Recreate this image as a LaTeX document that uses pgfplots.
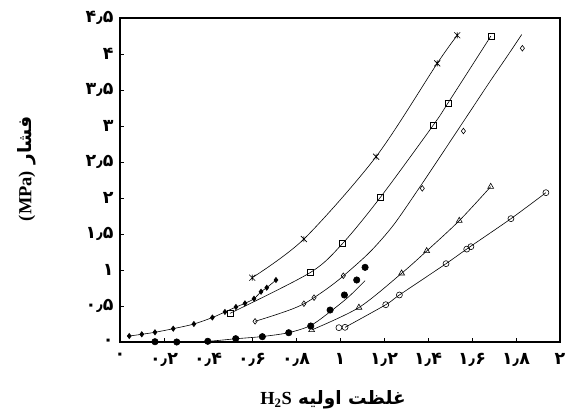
\documentclass[border=0pt]{standalone}
\usepackage{fontspec}
\setmainfont{Liberation Serif}
\newfontfamily\arabicfont[Script=Arabic]{DejaVu Sans}
\usepackage{pgfplots}
\pgfplotsset{compat=1.18}
\TeXXeTstate=1
\pgfdeclareplotmark{xstar}{%
  \pgfpathmoveto{\pgfqpoint{-\pgfplotmarksize}{-\pgfplotmarksize}}%
  \pgfpathlineto{\pgfqpoint{\pgfplotmarksize}{\pgfplotmarksize}}%
  \pgfpathmoveto{\pgfqpoint{-\pgfplotmarksize}{\pgfplotmarksize}}%
  \pgfpathlineto{\pgfqpoint{\pgfplotmarksize}{-\pgfplotmarksize}}%
  \pgfpathmoveto{\pgfqpoint{0pt}{-\pgfplotmarksize}}%
  \pgfpathlineto{\pgfqpoint{0pt}{\pgfplotmarksize}}%
  \pgfusepathqstroke}
\begin{document}
\begin{tikzpicture}
\path[use as bounding box] (-120bp,-75bp) rectangle (452bp,342bp);
\begin{axis}[
  at={(0,0)}, anchor=south west,
  scale only axis, width=440bp, height=324bp,
  xmin=0, xmax=2, ymin=0, ymax=4.5,
  clip=false,
  axis line style={line width=1.6bp},
  tick style={black, line width=0.6bp},
  tick align=inside, major tick length=4bp,
  xtick pos=bottom, ytick pos=left,
  xtick={0,0.2,0.4,0.6,0.8,1,1.2,1.4,1.6,1.8,2},
  xticklabels={۰,۰٫۲,۰٫۴,۰٫۶,۰٫۸,۱,۱٫۲,۱٫۴,۱٫۶,۱٫۸,۲},
  ytick={0,0.5,1,1.5,2,2.5,3,3.5,4,4.5},
  yticklabels={۰,۰٫۵,۱,۱٫۵,۲,۲٫۵,۳,۳٫۵,۴,۴٫۵},
  ticklabel style={font=\arabicfont\bfseries\fontsize{17.5}{17.5}\selectfont},
  xticklabel style={yshift=-8bp},
  yticklabel style={xshift=-3bp},
  xlabel={\bfseries\fontsize{18.5}{19}\selectfont\arabicfont\beginR غلظت اولیه \beginL{\rmfamily\bfseries H\textsubscript{2}S}\endL\endR},
  ylabel={\bfseries\fontsize{18.5}{19}\selectfont\arabicfont\beginR فشار \beginL{\rmfamily\bfseries (MPa)}\endL\endR},
  xlabel style={at={(axis description cs:0.484,-0.179)}, anchor=center},
  ylabel style={at={(axis description cs:-0.212,0.535)}, anchor=center, rotate=0},
  every axis plot/.append style={black, line width=0.6bp},
]
% Series A: filled diamonds
\addplot[smooth, mark=diamond*, mark size=2.6bp, mark options={solid, fill=black}] coordinates {
(0.042,0.083)(0.099,0.107)(0.159,0.135)(0.242,0.185)(0.336,0.25)(0.42,0.34)(0.477,0.417)(0.527,0.486)(0.568,0.537)(0.609,0.601)(0.641,0.698)(0.667,0.754)(0.709,0.861)};
% Series B: filled circles line
\addplot[smooth, no markers] coordinates {
(0.159,0.0)(0.258,0.0)(0.399,0.01)(0.526,0.045)(0.647,0.076)(0.767,0.13)(0.867,0.23)(0.955,0.42)(1.04,0.63)(1.114,0.852)};
\addplot[only marks, mark=*, mark size=3.2bp, fill=black] coordinates {
(0.159,0.004)(0.258,0.0)(0.399,0.01)(0.526,0.046)(0.647,0.074)(0.767,0.129)(0.867,0.222)(0.955,0.444)(1.02,0.653)(1.076,0.861)(1.114,1.037)};
% Series C: open diamonds
\addplot[smooth, no markers] coordinates {
(0.614,0.287)(0.70,0.37)(0.78,0.455)(0.836,0.53)(0.882,0.616)(0.95,0.76)(1.015,0.917)(1.136,1.25)(1.242,1.62)(1.349,2.09)(1.439,2.50)(1.515,2.85)(1.591,3.20)(1.682,3.62)(1.758,3.96)(1.826,4.27)};
\addplot[only marks, mark=diamond, mark size=2.8bp, mark options={fill=white}] coordinates {
(0.614,0.287)(0.836,0.532)(0.882,0.616)(1.015,0.92)(1.374,2.134)(1.561,2.93)(1.829,4.08)};
% Series D: open squares
\addplot[smooth, mark=square, mark size=3bp, mark options={solid}] coordinates {
(0.5,0.398)(0.864,0.963)(1.011,1.366)(1.185,2.015)(1.424,3.012)(1.49,3.315)(1.686,4.25)};
% Series E: stars
\addplot[smooth, mark=xstar, mark size=3bp] coordinates {
(0.601,0.893)(0.836,1.43)(1.164,2.574)(1.442,3.87)(1.533,4.26)};
% Series F: open triangles
\addplot[smooth, mark=triangle, mark size=3.4bp, mark options={solid}] coordinates {
(0.871,0.167)(1.086,0.479)(1.28,0.954)(1.394,1.264)(1.542,1.685)(1.685,2.157)};
% Series G: open circles
\addplot[smooth, no markers] coordinates {
(1.023,0.204)(1.208,0.518)(1.27,0.653)(1.482,1.088)(1.585,1.31)(1.777,1.713)(1.936,2.074)};
\addplot[only marks, mark=o, mark size=3bp] coordinates {
(0.995,0.199)(1.023,0.204)(1.208,0.518)(1.27,0.653)(1.482,1.088)(1.576,1.29)(1.595,1.324)(1.777,1.713)(1.936,2.074)};
\end{axis}
\end{tikzpicture}
\end{document}
